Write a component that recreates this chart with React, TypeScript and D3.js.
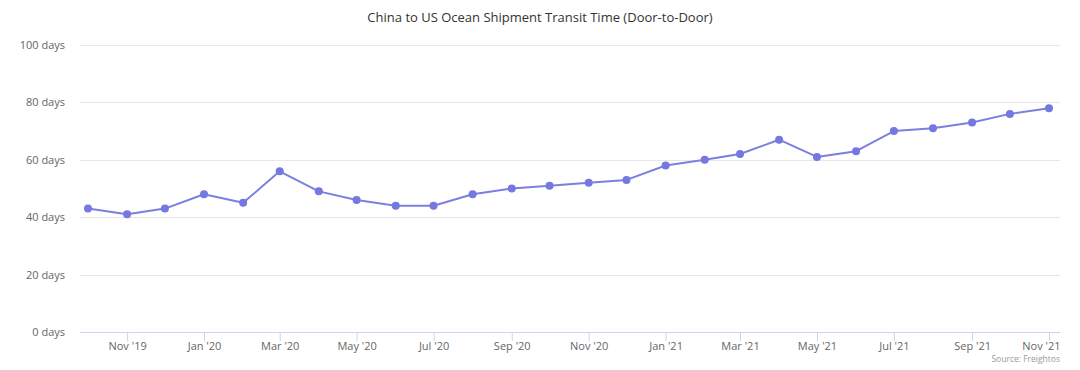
import React, { useEffect, useRef } from 'react';
import * as d3 from 'd3';

// monthly door-to-door transit time, Oct 2019 - Nov 2021
const months = [
  '2019-10', '2019-11', '2019-12',
  '2020-01', '2020-02', '2020-03', '2020-04', '2020-05', '2020-06',
  '2020-07', '2020-08', '2020-09', '2020-10', '2020-11', '2020-12',
  '2021-01', '2021-02', '2021-03', '2021-04', '2021-05', '2021-06',
  '2021-07', '2021-08', '2021-09', '2021-10', '2021-11'
];
const transitDays = [
  43, 41, 43,
  48, 45, 56, 49, 46, 44,
  44, 48, 50, 51, 52, 53,
  58, 60, 62, 67, 61, 63,
  70, 71, 73, 76, 78
];
const yTicks = [0, 20, 40, 60, 80, 100];

const title = 'China to US Ocean Shipment Transit Time (Door-to-Door)';
const source = 'Source: Freightos';

const App = () => {
  const ref = useRef<SVGSVGElement>(null);

  useEffect(() => {
    document.body.style.margin = '0';
    const svg = d3.select(ref.current);
    svg.selectAll('*').remove();

    const width = 1080;
    const height = 370;
    const plot = { left: 80, right: 1060, top: 45, bottom: 332 };
    const font = '"Open Sans", "DejaVu Sans", sans-serif';
    const parse = d3.timeParse('%Y-%m');
    const data = months.map((m, i) => ({ date: parse(m) as Date, value: transitDays[i] }));

    const x = d3.scaleTime()
      .domain(d3.extent(data, d => d.date) as [Date, Date])
      .range([88, 1049]);

    const y = d3.scaleLinear()
      .domain([0, 100])
      .range([plot.bottom, plot.top]);

    svg.append('rect')
      .attr('width', width)
      .attr('height', height)
      .attr('fill', '#ffffff');

    // title
    svg.append('text')
      .attr('x', width / 2)
      .attr('y', 22)
      .attr('text-anchor', 'middle')
      .attr('font-family', font)
      .attr('font-size', 13)
      .attr('fill', '#333333')
      .text(title);

    // horizontal grid + y labels
    const yAxis = svg.append('g');
    yAxis.selectAll('line')
      .data(yTicks.filter(t => t > 0))
      .join('line')
      .attr('x1', plot.left)
      .attr('x2', plot.right)
      .attr('y1', d => Math.round(y(d)) + 0.5)
      .attr('y2', d => Math.round(y(d)) + 0.5)
      .attr('stroke', '#e6e6e6');

    yAxis.selectAll('text')
      .data(yTicks)
      .join('text')
      .attr('x', 65)
      .attr('y', d => y(d) + 4)
      .attr('text-anchor', 'end')
      .attr('font-family', font)
      .attr('font-size', 11)
      .attr('fill', '#666666')
      .text(d => `${d} days`);

    // x axis
    const xAxis = svg.append('g')
      .attr('transform', `translate(0,${plot.bottom})`)
      .call(
        d3.axisBottom(x)
          .ticks(d3.timeMonth.every(2))
          .tickFormat(d => d3.timeFormat("%b '%y")(d as Date))
          .tickSize(9)
          .tickSizeOuter(0)
      );
    xAxis.select('.domain').remove();
    xAxis.append('line')
      .attr('x1', plot.left)
      .attr('x2', plot.right)
      .attr('y1', 0.5)
      .attr('y2', 0.5)
      .attr('stroke', '#ccd6eb');
    xAxis.selectAll('.tick line').attr('stroke', '#ccd6eb');
    xAxis.selectAll('.tick text')
      .attr('font-family', font)
      .attr('font-size', 11)
      .attr('fill', '#666666')
      .attr('dy', '0.85em')
      .attr('y', 9);
    // keep the last label inside the plot edge
    const lastTick = x.ticks(d3.timeMonth.every(2)).slice(-1)[0];
    xAxis.selectAll<SVGGElement, Date>('.tick')
      .filter(d => +d === +lastTick)
      .select('text')
      .attr('text-anchor', 'end')
      .attr('x', plot.right - x(lastTick));

    // series
    const line = d3.line<{ date: Date; value: number }>()
      .x(d => x(d.date))
      .y(d => y(d.value));

    svg.append('path')
      .datum(data)
      .attr('fill', 'none')
      .attr('stroke', '#7b7fe0')
      .attr('stroke-width', 2)
      .attr('stroke-linejoin', 'round')
      .attr('d', line);

    svg.append('g')
      .selectAll('circle')
      .data(data)
      .join('circle')
      .attr('cx', d => x(d.date))
      .attr('cy', d => y(d.value))
      .attr('r', 4)
      .attr('fill', '#7478e0');

    // credits
    svg.append('text')
      .attr('x', 1060)
      .attr('y', 362)
      .attr('text-anchor', 'end')
      .attr('font-family', font)
      .attr('font-size', 8.5)
      .attr('fill', '#999999')
      .text(source);
  }, []);

  return <svg ref={ref} width={1080} height={370} style={{ display: 'block' }}></svg>;
};

export default App;
